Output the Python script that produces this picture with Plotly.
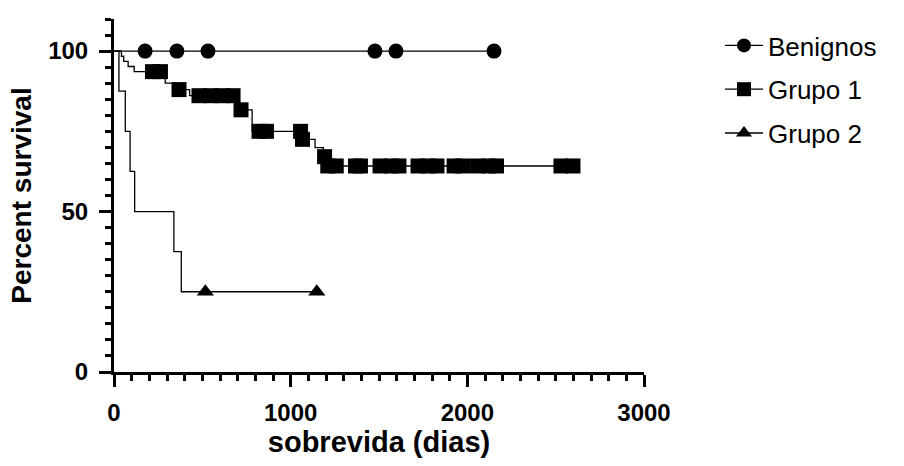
import plotly.graph_objects as go

# ---------------- data ----------------
series_names = ["Benignos", "Grupo 1", "Grupo 2"]

ben_event_days = []
ben_event_surv = []
ben_censor_days = [176, 356, 532, 1477, 1596, 2151]

g1_event_days = [42, 55, 80, 114, 290, 355, 428, 685, 782, 1062, 1138, 1185, 1198]
g1_event_surv = [98.4, 96.8, 95.2, 93.6, 90.0, 88.0, 86.1, 81.7, 75.0, 72.5, 69.9, 67.1, 64.2]
g1_censor_days = [218, 263, 368, 481, 549, 611, 674, 719, 821, 863, 1056, 1067,
                  1192, 1210, 1258, 1367, 1395, 1506, 1568, 1613, 1721, 1777, 1828,
                  1925, 1973, 2058, 2123, 2165, 2530, 2598]

g2_event_days = [28, 64, 91, 117, 339, 381]
g2_event_surv = [87.5, 75.0, 62.5, 50.0, 37.5, 25.0]
g2_censor_days = [517, 1148]

x_ticks = [0, 1000, 2000, 3000]
y_ticks = [0, 50, 100]

symbols = ["circle", "square", "triangle-up"]

FONT = "Liberation Sans, Arial, Helvetica, sans-serif"


def surv_at(t, ev_days, ev_surv):
    s = 100.0
    for d, v in zip(ev_days, ev_surv):
        if d <= t:
            s = v
    return s


fig = go.Figure()

all_series = [
    (ben_event_days, ben_event_surv, ben_censor_days),
    (g1_event_days, g1_event_surv, g1_censor_days),
    (g2_event_days, g2_event_surv, g2_censor_days),
]

for name, sym, (ed, es, cd) in zip(series_names, symbols, all_series):
    end = max(cd + ed)
    xs = [0] + list(ed) + [end]
    ys = [100] + list(es) + [es[-1] if es else 100]
    fig.add_trace(go.Scatter(
        x=xs, y=ys, mode="lines", line=dict(color="black", width=1.3, shape="hv"),
        showlegend=False, legendgroup=name, hoverinfo="skip"))
    fig.add_trace(go.Scatter(
        x=cd, y=[surv_at(t, ed, es) for t in cd], mode="markers",
        marker=dict(symbol=sym, size=15, color="black", line=dict(width=0)),
        showlegend=False, legendgroup=name))
    # legend entry
    fig.add_trace(go.Scatter(
        x=[None], y=[None], mode="lines+markers", name=name, legendgroup=name,
        line=dict(color="black", width=1.3),
        marker=dict(symbol=sym, size=14, color="black")))

fig.update_layout(
    width=904, height=466,
    margin=dict(l=114, r=260, t=19, b=94),
    paper_bgcolor="white", plot_bgcolor="white",
    font=dict(family=FONT, color="black"),
    showlegend=True,
    legend=dict(
        xref="container", yref="container", x=720 / 904, y=1 - 22 / 466,
        xanchor="left", yanchor="top",
        font=dict(size=26, family=FONT, color="black"),
        tracegroupgap=7, itemwidth=38, bgcolor="rgba(0,0,0,0)",
    ),
)

fig.update_xaxes(
    range=[0, 3000], tickvals=x_ticks, ticktext=[str(v) for v in x_ticks],
    showgrid=False, zeroline=False, automargin=False,
    showline=True, linecolor="black", linewidth=3,
    ticks="outside", ticklen=12, tickwidth=3, tickcolor="black",
    tickfont=dict(size=24, family=FONT, color="black", weight="bold"),
    ticklabelstandoff=5,
    minor=dict(dtick=100, tick0=0, ticks="outside", ticklen=6, tickwidth=3, tickcolor="black", showgrid=False),
    title=dict(text="sobrevida (dias)", font=dict(size=29, family=FONT, color="black", weight="bold"), standoff=0),
)
fig.update_yaxes(
    range=[0, 110], tickvals=y_ticks, ticktext=[str(v) for v in y_ticks],
    showgrid=False, zeroline=False, automargin=False,
    showline=True, linecolor="black", linewidth=3,
    ticks="outside", ticklen=12, tickwidth=3, tickcolor="black",
    tickfont=dict(size=24, family=FONT, color="black", weight="bold"),
    ticklabelstandoff=6,
    minor=dict(dtick=5, tick0=0, ticks="outside", ticklen=6, tickwidth=3, tickcolor="black", showgrid=False),
    title=dict(text="Percent survival", font=dict(size=28, family=FONT, color="black", weight="bold"), standoff=9),
)

fig.write_html("out.html")
